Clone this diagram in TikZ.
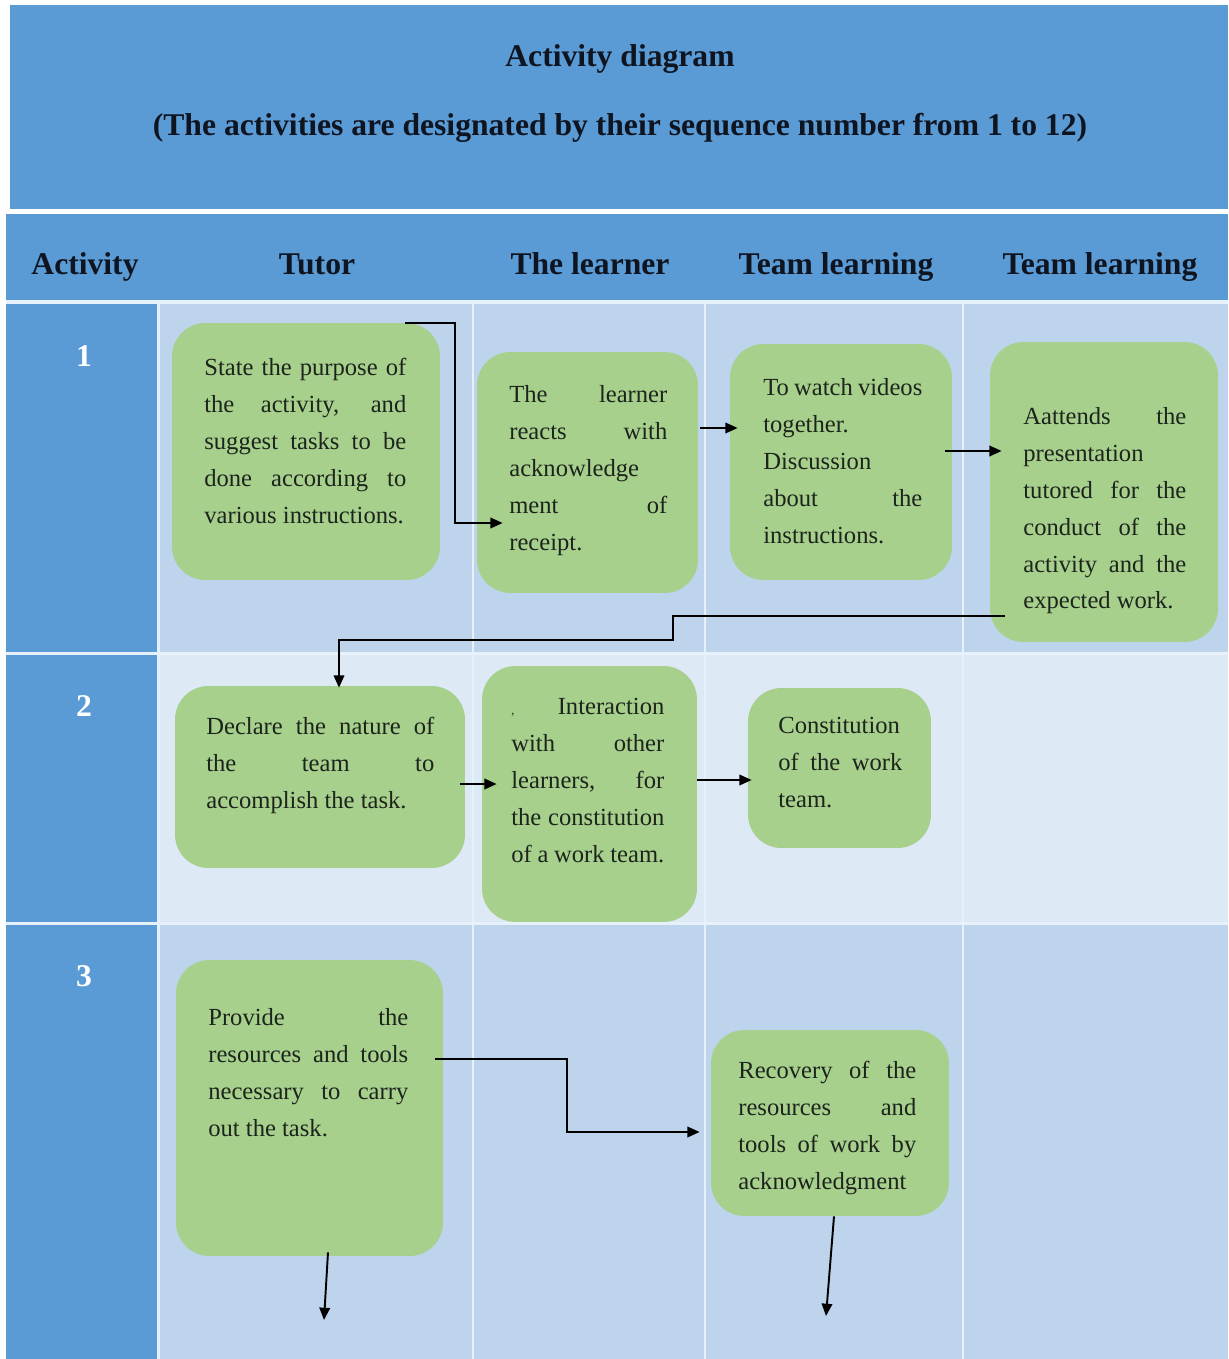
\documentclass[tikz,border=0pt]{standalone}
\usepackage{fontspec}
\setmainfont{Liberation Serif}
\usetikzlibrary{arrows.meta,calc}
\definecolor{hblue}{RGB}{91,155,213}
\definecolor{cellA}{RGB}{190,212,236}
\definecolor{cellB}{RGB}{221,234,246}
\definecolor{sepc}{RGB}{230,241,251}
\definecolor{boxgreen}{RGB}{168,208,141}
\definecolor{txtcol}{RGB}{28,36,28}
\definecolor{hdcol}{RGB}{14,20,32}
\newcommand\looseset{\tolerance=10000 \hbadness=10000 \hfuzz=5pt }
\tikzset{
  gbox/.style={draw=none, fill=boxgreen, rounded corners=19pt, inner sep=0pt},
  btxt/.style={anchor=north west, inner sep=0pt, align=justify, text=txtcol,
    font={\fontsize{14}{21}\selectfont\looseset}},
  hd/.style={font={\fontsize{18}{22}\bfseries\selectfont}, text=hdcol, inner sep=0pt, anchor=base},
  num/.style={font={\fontsize{18}{22}\bfseries\selectfont}, text=white, inner sep=0pt, anchor=base},
  arr/.style={draw=black, line width=1.1pt, -{Triangle[length=7pt,width=6pt]}},
}
\begin{document}
\begin{tikzpicture}[x=0.02cm,y=-0.02cm]
\useasboundingbox (0,0) rectangle (1228,1359);
\fill[white] (0,0) rectangle (1228,1359);
% title band
\fill[hblue] (10,5) rectangle (1228,209);
\node[hd] (title) at (620,66) {Activity diagram};
\node[hd] (subtitle) at (620,135) {(The activities are designated by their sequence number from 1 to 12)};
% header row
\fill[hblue] (6,214) rectangle (1228,300);
\fill[sepc] (6,300) rectangle (1228,1359);
\node[hd] (hA) at (85,274) {Activity};
\node[hd] (hT) at (317,274) {Tutor};
\node[hd] (hL) at (590,274) {The learner};
\node[hd] (hT1) at (836,274) {Team learning};
\node[hd] (hT2) at (1100,274) {Team learning};
% activity column
\fill[hblue] (6,304) rectangle (157,652);
\fill[hblue] (6,655) rectangle (157,922);
\fill[hblue] (6,925) rectangle (157,1359);
% cells
\foreach \xa/\xb in {160/472,474/704,706/962,964/1228}{
  \fill[cellA] (\xa,304) rectangle (\xb,652);
  \fill[cellB] (\xa,655) rectangle (\xb,922);
  \fill[cellA] (\xa,925) rectangle (\xb,1359);
}
\node[num] (n1) at (84,366) {1};
\node[num] (n2) at (84,716) {2};
\node[num] (n3) at (84,986) {3};
% row 1
\node[gbox, minimum width=5.36cm, minimum height=5.14cm] (A1) at (306,451.5) {};
\node[btxt, text width=4.04cm] (A1t) at (204,358) {State the purpose of\linebreak the activity, and\linebreak suggest tasks to be\linebreak done according to\linebreak various instructions.};
\node[gbox, minimum width=4.42cm, minimum height=4.82cm] (A2) at (587.5,472.5) {};
\node[btxt, text width=3.16cm] (A2t) at (509,385) {The learner\linebreak reacts with\linebreak acknowledge\\ ment of\linebreak receipt.};
\node[gbox, minimum width=4.44cm, minimum height=4.72cm] (A3) at (841,462) {};
\node[btxt, text width=3.18cm] (A3t) at (763,378) {To watch videos\\ together.\\ Discussion\\ about the\linebreak instructions.};
\node[gbox, minimum width=4.56cm, minimum height=6.00cm] (A4) at (1104,492) {};
\node[btxt, text width=3.26cm] (A4t) at (1023,407) {Aattends the\linebreak presentation\\ tutored for the\linebreak conduct of the\linebreak activity and the\linebreak expected work.};
% row 2
\node[gbox, minimum width=5.8cm, minimum height=3.64cm] (B1) at (320,777) {};
\node[btxt, text width=4.56cm] (B1t) at (206,717) {Declare the nature of\linebreak the team to\linebreak accomplish the task.};
\node[gbox, minimum width=4.3cm, minimum height=5.12cm] (B2) at (589.5,794) {};
\node[btxt, text width=3.06cm] (B2t) at (511,698) {{\scriptsize ,}\hfill Interaction\\ with other\linebreak learners, for\linebreak the constitution\linebreak of a work team.};
\node[gbox, minimum width=3.66cm, minimum height=3.2cm] (B3) at (839.5,768) {};
\node[btxt, text width=2.48cm] (B3t) at (778,717) {Constitution\\ of the work\linebreak team.};
% row 3
\node[gbox, minimum width=5.34cm, minimum height=5.92cm] (C1) at (309.5,1108) {};
\node[btxt, text width=4.0cm] (C1t) at (208,1008) {Provide the\linebreak resources and tools\linebreak necessary to carry\linebreak out the task.};
\node[gbox, minimum width=4.76cm, minimum height=3.72cm] (C2) at (830,1123) {};
\node[btxt, text width=3.56cm] (C2t) at (738,1061) {Recovery of the\linebreak resources and\linebreak tools of work by\linebreak acknowledgment};
% connectors
\coordinate (a1s) at ($(A1.north east)+(-35,0)$);
\coordinate (a2e) at ($(A2.west)+(26,50.5)$);
\draw[arr] (a1s) -- ++(50,0) |- (a2e);
\draw[arr] ($(A2.east)+(2,-44.5)$) -- ($(A3.west)+(8,-34)$);
\draw[arr] ($(A3.east)+(-7,-11)$) -- ($(A4.west)+(12,-41)$);
\coordinate (a4s) at ($(A4.west)+(15,124)$);
\coordinate (b1e) at ($(B1.north)+(19,2)$);
\draw[arr] (a4s) -- ++(-332,0) -- ++(0,24) -| (b1e);
\draw[arr] ($(B1.east)+(-5,7)$) -- ($(B2.west)+(15,-10)$);
\draw[arr] ($(B2.east)+(0,-14)$) -- ($(B3.west)+(4,12)$);
\coordinate (c1s) at ($(C1.east)+(-8,-49)$);
\coordinate (c2e) at ($(C2.west)+(-11,9)$);
\draw[arr] (c1s) -- ++(132,0) |- (c2e);
\coordinate (c1x) at (324,1320);
\coordinate (c2x) at (826,1316);
\draw[arr] ($(C1.south)+(18.5,-4)$) -- (c1x);
\draw[arr] ($(C2.south)+(4,0)$) -- (c2x);
\end{tikzpicture}
\end{document}
